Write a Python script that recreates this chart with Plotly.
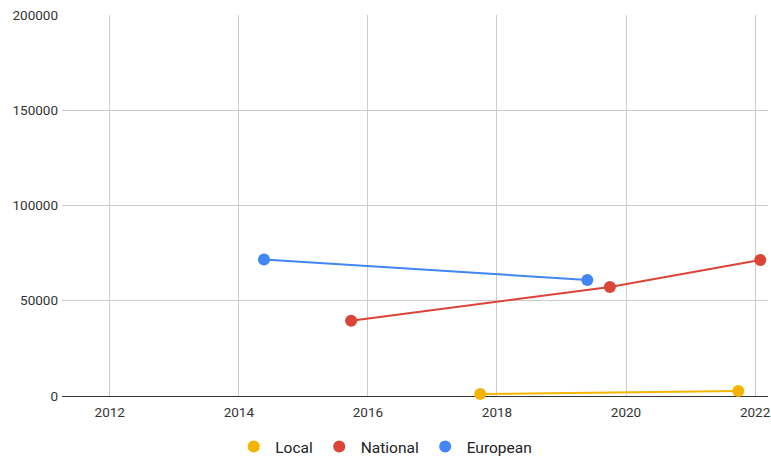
import plotly.graph_objects as go

series_names = ["Local", "National", "European"]
colors = ["#f4b400", "#db4437", "#4285f4"]

local_x = [2017.74, 2021.74]
local_y = [1000, 2600]
national_x = [2015.74, 2019.75, 2022.08]
national_y = [39500, 57200, 71400]
european_x = [2014.39, 2019.40]
european_y = [71600, 60900]

x_ticks = [2012, 2014, 2016, 2018, 2020, 2022]
y_ticks = [0, 50000, 100000, 150000, 200000]

data = [(local_x, local_y), (national_x, national_y), (european_x, european_y)]

fig = go.Figure()
for (xs, ys), name, c in zip(data, series_names, colors):
    fig.add_trace(go.Scatter(x=xs, y=ys, mode="lines+markers", name=name,
                             line=dict(color=c, width=2),
                             marker=dict(color=c, size=12),
                             showlegend=False, cliponaxis=False))
for name, c in zip(series_names, colors):
    fig.add_trace(go.Scatter(x=[None], y=[None], mode="markers", name=name,
                             marker=dict(color=c, size=16)))

tick_font = dict(family="Roboto", size=13.5, color="#333")

fig.update_layout(
    width=771, height=458,
    margin=dict(l=62, r=0, t=15, b=62),
    paper_bgcolor="white", plot_bgcolor="white",
    font=dict(family="Roboto", color="#333"),
    legend=dict(orientation="h", xref="container", yref="container",
                x=0.499, xanchor="center", y=0.024, yanchor="middle",
                font=dict(size=15.5, color="#222"), itemsizing="constant",
                itemwidth=33),
    xaxis=dict(range=[2011.26, 2022.2], tickvals=x_ticks,
               ticktext=[str(t) for t in x_ticks],
               showgrid=True, gridcolor="#cccccc", gridwidth=1,
               zeroline=False, showline=False, ticks="",
               ticklabeloverflow="allow",
               ticklabelstandoff=6, tickfont=tick_font),
    yaxis=dict(range=[0, 200000], tickvals=y_ticks,
               ticktext=[str(t) for t in y_ticks],
               showgrid=True, gridcolor="#cccccc", gridwidth=1,
               zeroline=True, zerolinecolor="#333333", zerolinewidth=1,
               showline=False, ticks="", ticklabelstandoff=3,
               tickfont=tick_font),
)

fig.write_html("out.html", config={"displayModeBar": False},
               post_script="document.body.style.margin='0';document.body.style.overflow='hidden';")
